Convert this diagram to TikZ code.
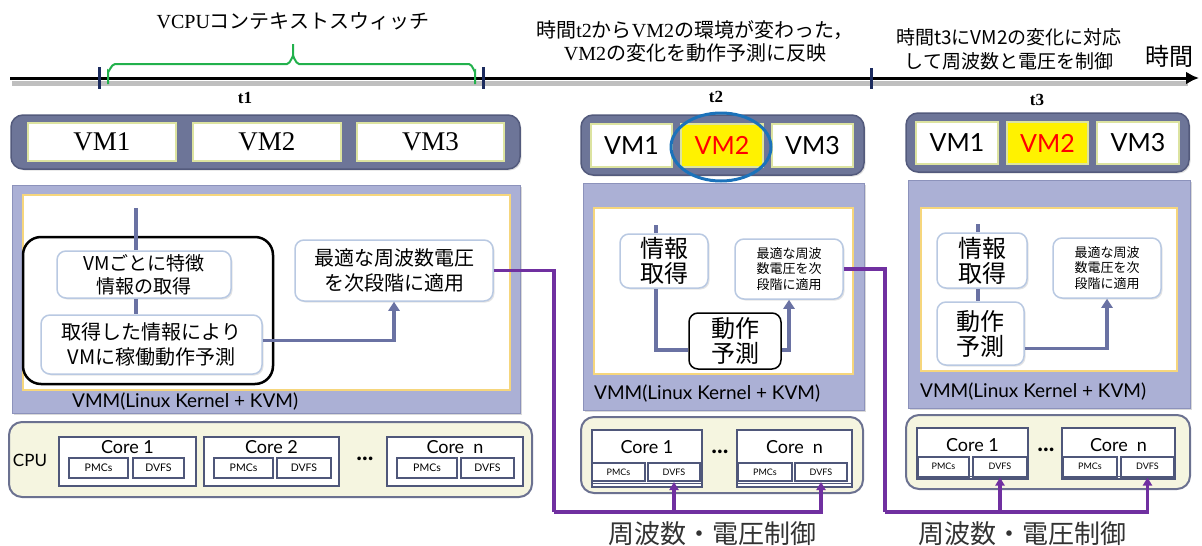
\documentclass[tikz,border=0pt]{standalone}
\usepackage{fontspec}
\setmainfont{Noto Sans CJK JP}
\newfontfamily\sr{Liberation Serif}
\newfontfamily\gs{Lato}
\usetikzlibrary{arrows.meta,shadows,calc}
\definecolor{vmbar}{HTML}{6D7598}
\definecolor{vmbarB}{HTML}{535A7C}
\definecolor{vmbox}{HTML}{DCE3A0}
\definecolor{vmmF}{HTML}{ABB0D5}
\definecolor{vmmB}{HTML}{8C92BB}
\definecolor{innerB}{HTML}{F6D67C}
\definecolor{pboxB}{HTML}{B9C9E2}
\definecolor{connC}{HTML}{6A72A3}
\definecolor{purp}{HTML}{7030A0}
\definecolor{cpuF}{HTML}{F5F5E0}
\definecolor{cpuB}{HTML}{6B7190}
\definecolor{coreB}{HTML}{4F577A}
\definecolor{tickC}{HTML}{1C2B5E}
\definecolor{brc}{HTML}{22B14C}
\definecolor{ellC}{HTML}{1B72BA}
\tikzset{
  vmbarst/.style={fill=vmbar, draw=vmbarB, line width=1.5pt, rounded corners=12pt, inner sep=0,
    drop shadow={opacity=0.25, shadow xshift=1.5pt, shadow yshift=-1.5pt}},
  vmst/.style={fill=white, draw=vmbox, line width=2pt, inner sep=0, font=\gs\fontsize{25}{25}\selectfont},
  vmmst/.style={fill=vmmF, draw=vmmB, line width=1pt, inner sep=0,
    drop shadow={opacity=0.3, shadow xshift=2pt, shadow yshift=-2pt}},
  innerst/.style={fill=white, draw=innerB, line width=2pt, inner sep=0},
  procst/.style={fill=white, draw=pboxB, line width=1.5pt, rounded corners=9pt, inner sep=0, align=center,
    drop shadow={opacity=0.2, shadow xshift=1.5pt, shadow yshift=-1.5pt}},
  predst/.style={fill=white, draw=black, line width=1.5pt, rounded corners=9pt, inner sep=0, align=center},
  connst/.style={draw=connC, line width=3.5pt},
  arr/.style={-{Triangle[length=9pt,width=11pt]}},
  purpst/.style={draw=purp, line width=3.5pt},
  parr/.style={-{Triangle[length=8pt,width=9pt]}},
  cpust/.style={fill=cpuF, draw=cpuB, line width=2pt, rounded corners=13pt, inner sep=0},
  corest/.style={fill=white, draw=coreB, line width=2pt, inner sep=0},
  subst/.style={fill=white, draw=coreB, line width=2pt, inner sep=0, font=\gs\fontsize{10.5}{10.5}\selectfont},
  subsm/.style={subst, font=\gs\fontsize{9}{9}\selectfont},
  corelab/.style={font=\gs\fontsize{18}{18}\selectfont, inner sep=0},
  dotst/.style={font=\gs\bfseries\fontsize{24}{24}\selectfont, inner sep=0},
  vmmlab/.style={font=\gs\fontsize{19}{19}\selectfont, anchor=west, inner sep=0},
  tickst/.style={draw=tickC, line width=3pt},
  tlab/.style={font=\sr\bfseries\fontsize{17}{17}\selectfont, inner sep=0},
  plab/.style={font=\fontsize{26}{26}\selectfont, inner sep=0, text=black!80},
}
\begin{document}
\begin{tikzpicture}[x=1pt,y=-1pt]
\useasboundingbox (0,0) rectangle (1202,546);

% ---------------- timeline ----------------
\coordinate (tlS) at (10,78);
\coordinate (tlE) at (1199,78);
\draw[black!25, line width=5pt] (12,83) -- (1188,83);
\draw[line width=3pt, -{Latex[length=13pt,width=13pt]}] (tlS) -- (tlE);
\coordinate (k1a) at (99,67); \coordinate (k1b) at (99,89);
\coordinate (k2a) at (483,67); \coordinate (k2b) at (483,89);
\coordinate (k3a) at (871,68); \coordinate (k3b) at (871,89);
\draw[tickst] (k1a) -- (k1b);
\draw[tickst] (k2a) -- (k2b);
\draw[tickst] (k3a) -- (k3b);
% brace
\draw[brc, line width=2pt] (108,84) -- (108,71) to[out=270,in=180] (115,64) -- (287,64)
   to[out=0,in=90] (293,57) -- (293,44);
\draw[brc, line width=2pt] (293,57) to[out=90,in=180] (299,64) -- (469,64)
   to[out=0,in=270] (475,71) -- (475,84);
\node[font=\fontsize{20}{20}\selectfont, inner sep=0] (vcpu) at (293,21) {{\sr VCPU}コンテキストスウィッチ};
\node[tlab] (t1) at (245,98) {t1};
\node[tlab] (t2) at (716,97) {t2};
\node[tlab] (t3) at (1037,100) {t3};
\node[align=center, inner sep=0, font=\fontsize{20}{23}\selectfont] (c2) at (695,41)
  {時間{\sr t2}から{\sr VM2}の環境が変わった，\\{\sr VM2}の変化を動作予測に反映};
\node[align=center, inner sep=0, font=\fontsize{19}{24}\selectfont] (c3) at (1009,49)
  {時間t3にVM2の変化に対応\\して周波数と電圧を制御};
\node[inner sep=0, font=\fontsize{24}{24}\selectfont] (jikan) at (1169,56) {時間};

% ---------------- left panel ----------------
\node[vmbarst, minimum width=509pt, minimum height=54pt] (barL) at (265.5,142) {};
\node[vmst, font=\sr\fontsize{27}{27}\selectfont, minimum width=148pt, minimum height=38pt] (lvm1) at (102,142) {VM1};
\node[vmst, font=\sr\fontsize{27}{27}\selectfont, minimum width=148pt, minimum height=38pt] (lvm2) at (267,142) {VM2};
\node[vmst, font=\sr\fontsize{27}{27}\selectfont, minimum width=147pt, minimum height=38pt] (lvm3) at (430.5,142) {VM3};

\node[vmmst, minimum width=508pt, minimum height=228pt] (vmmL) at (266,299) {};
\node[innerst, minimum width=487pt, minimum height=195pt] (inL) at (266.5,292.5) {};
\node[draw=black, line width=2.5pt, rounded corners=18pt, minimum width=250pt, minimum height=147pt, inner sep=0] (grpL) at (148,310.5) {};
\node[procst, font=\fontsize{19}{23}\selectfont, minimum width=174pt, minimum height=47pt] (lA) at (144,274.5) {VMごとに特徴\\情報の取得};
\node[procst, font=\fontsize{20}{25}\selectfont, minimum width=221pt, minimum height=59pt] (lB) at (151.5,344.5) {取得した情報により\\VMに稼働動作予測};
\node[procst, font=\fontsize{20}{25}\selectfont, minimum width=198pt, minimum height=61pt] (lC) at (394,270.5) {最適な周波数電圧\\を次段階に適用};
\coordinate (topL) at (136,208);
\draw[connst] (topL) -- (topL |- lA.north);
\draw[connst] (topL |- lA.south) -- (topL |- lB.north);
\draw[connst, arr] ([yshift=4pt]lB.east) -| (lC.south);
\node[vmmlab] (vmmLlab) at (72,402) {VMM(Linux Kernel + KVM)};

% left CPU
\node[cpust, minimum width=523pt, minimum height=75pt] (cpuL) at (270.5,459.5) {};
\node[font=\gs\fontsize{17}{17}\selectfont, inner sep=0] (cpuLlab) at (30,460) {CPU};
\node[corest, minimum width=137pt, minimum height=49pt] (lc1) at (127.5,461.5) {};
\node[subst, minimum width=59pt, minimum height=20pt] (lp1) at (98.5,468) {PMCs};
\node[subst, minimum width=51pt, minimum height=20pt] (ld1) at (158.5,468) {DVFS};
\node[corelab] (lc1t) at ($(lc1.north)+(0,11)$) {Core 1};
\node[corest, minimum width=135pt, minimum height=49pt] (lc2) at (271.5,461.5) {};
\node[subst, minimum width=59pt, minimum height=20pt] (lp2) at (243.5,468) {PMCs};
\node[subst, minimum width=54pt, minimum height=20pt] (ld2) at (304,468) {DVFS};
\node[corelab] (lc2t) at ($(lc2.north)+(0,11)$) {Core 2};
\node[dotst] (ldots) at (365,459) {...};
\node[corest, minimum width=136pt, minimum height=49pt] (lcn) at (455,461.5) {};
\node[subst, minimum width=60pt, minimum height=20pt] (lpn) at (427,468) {PMCs};
\node[subst, minimum width=53pt, minimum height=20pt] (ldn) at (487.5,468) {DVFS};
\node[corelab] (lcnt) at ($(lcn.north)+(0,11)$) {Core\ \ n};

% ---------------- middle panel ----------------
\node[vmbarst, minimum width=283pt, minimum height=60pt] (barM) at (722.5,145) {};
\node[vmst, minimum width=81pt, minimum height=43pt] (mvm1) at (631.5,145.5) {VM1};
\node[vmst, fill=yellow, text=red, minimum width=82pt, minimum height=43pt] (mvm2) at (722,145.5) {VM2};
\node[vmst, minimum width=81pt, minimum height=43pt] (mvm3) at (812.5,145.5) {VM3};
\draw[ellC, line width=3pt] (721,147) ellipse [x radius=50, y radius=34];

\node[vmmst, minimum width=281pt, minimum height=227pt] (vmmM) at (723.5,296.5) {};
\node[innerst, minimum width=259pt, minimum height=166pt] (inM) at (723.5,291) {};
\node[procst, font=\fontsize{24}{25}\selectfont, minimum width=88pt, minimum height=54pt] (mInfo) at (664,261) {情報\\取得};
\node[procst, font=\fontsize{13}{15.5}\selectfont, minimum width=108pt, minimum height=60pt] (mOpt) at (789,269) {最適な周波\\数電圧を次\\段階に適用};
\node[predst, font=\fontsize{24}{25}\selectfont, minimum width=92pt, minimum height=56pt] (mPred) at (735,341) {動作\\予測};
\coordinate (topM) at (656,225);
\draw[connst] (topM) -- (topM |- mInfo.north);
\draw[connst] (topM |- mInfo.south) |- ([yshift=-9pt]mPred.west);
\draw[connst, arr] ([yshift=-9pt]mPred.east) -| (mOpt.south);
\node[vmmlab] (vmmMlab) at (594,394) {VMM(Linux Kernel + KVM)};

% middle CPU
\node[cpust, minimum width=282pt, minimum height=76pt] (cpuM) at (722,455) {};
\node[corest, minimum width=110pt, minimum height=57pt] (mc1) at (647,458.5) {};
\draw[coreB, line width=1pt] ($(mc1.south west)+(0,-5)$) -- ($(mc1.south east)+(0,-5)$);
\node[subsm, minimum width=53pt, minimum height=18pt] (mp1) at (618.5,472) {PMCs};
\node[subsm, minimum width=52pt, minimum height=18pt] (md1) at (674,472) {DVFS};
\node[corelab] (mc1t) at ($(mc1.north)+(0,18)$) {Core 1};
\node[dotst] (mdots) at (720,452) {...};
\node[corest, minimum width=115pt, minimum height=57pt] (mcn) at (794.5,458.5) {};
\draw[coreB, line width=1pt] ($(mcn.south west)+(0,-5)$) -- ($(mcn.south east)+(0,-5)$);
\node[subsm, minimum width=54pt, minimum height=18pt] (mpn) at (765,472) {PMCs};
\node[subsm, minimum width=52pt, minimum height=18pt] (mdn) at (821,472) {DVFS};
\node[corelab] (mcnt) at ($(mcn.north)+(0,18)$) {Core\ \ n};

% purple from left panel
\coordinate (pL) at (554,512);
\draw[purpst] (lC.east) -| (pL);
\draw[purpst, parr] (pL) -| (mdn.south);
\draw[purpst, parr] (md1.south |- pL) -- (md1.south);
\node[plab] (plabM) at (712,534) {周波数・電圧制御};

% ---------------- right panel ----------------
\node[vmbarst, minimum width=283pt, minimum height=59pt] (barR) at (1047.5,142.5) {};
\node[vmst, minimum width=82pt, minimum height=42pt] (rvm1) at (957,143) {VM1};
\node[vmst, fill=yellow, text=red, minimum width=81pt, minimum height=42pt] (rvm2) at (1047.5,143) {VM2};
\node[vmst, minimum width=82pt, minimum height=42pt] (rvm3) at (1138,143) {VM3};

\node[vmmst, minimum width=282pt, minimum height=228pt] (vmmR) at (1049,294) {};
\node[innerst, minimum width=256pt, minimum height=163pt] (inR) at (1049,289.5) {};
\node[procst, font=\fontsize{24}{25}\selectfont, minimum width=90pt, minimum height=55pt] (rInfo) at (982,260.5) {情報\\取得};
\node[procst, font=\fontsize{24}{25}\selectfont, minimum width=87pt, minimum height=63pt] (rPred) at (980.5,333.5) {動作\\予測};
\node[procst, font=\fontsize{13}{15.5}\selectfont, minimum width=108pt, minimum height=60pt] (rOpt) at (1107,268) {最適な周波\\数電圧を次\\段階に適用};
\coordinate (topR) at (978,224);
\draw[connst] (topR) -- (topR |- rInfo.north);
\draw[connst] (topR |- rInfo.south) -- (topR |- rPred.north);
\draw[connst, arr] ([yshift=-15pt]rPred.east) -| (rOpt.south);
\node[vmmlab] (vmmRlab) at (920,392) {VMM(Linux Kernel + KVM)};

% right CPU
\node[cpust, minimum width=284pt, minimum height=74pt] (cpuR) at (1048,452) {};
\node[corest, minimum width=111pt, minimum height=51pt] (rc1) at (972.5,453.5) {};
\draw[coreB, line width=1pt] ($(rc1.south west)+(0,-4)$) -- ($(rc1.south east)+(0,-4)$);
\node[subsm, minimum width=51pt, minimum height=20pt] (rp1) at (943.5,466.5) {PMCs};
\node[subsm, minimum width=54pt, minimum height=20pt] (rd1) at (1000,466.5) {DVFS};
\node[corelab] (rc1t) at ($(rc1.north)+(0,18)$) {Core 1};
\node[dotst] (rdots) at (1046,450) {...};
\node[corest, minimum width=113pt, minimum height=51pt] (rcn) at (1118.5,453.5) {};
\draw[coreB, line width=1pt] ($(rcn.south west)+(0,-4)$) -- ($(rcn.south east)+(0,-4)$);
\node[subsm, minimum width=54pt, minimum height=20pt] (rpn) at (1090,466.5) {PMCs};
\node[subsm, minimum width=53pt, minimum height=20pt] (rdn) at (1147.5,466.5) {DVFS};
\node[corelab] (rcnt) at ($(rcn.north)+(0,18)$) {Core\ \ n};

% purple from middle panel
\coordinate (pR) at (885,512);
\draw[purpst] (mOpt.east) -| (pR);
\draw[purpst, parr] (pR) -| (rdn.south);
\draw[purpst, parr] (rd1.south |- pR) -- (rd1.south);
\node[plab] (plabR) at (1022,534) {周波数・電圧制御};
\end{tikzpicture}
\end{document}
